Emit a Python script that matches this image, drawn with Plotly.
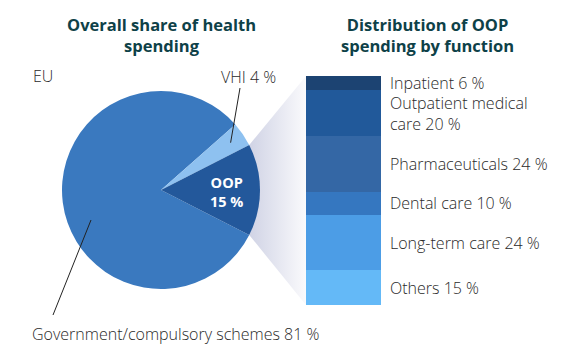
import math
import plotly.graph_objects as go

# ---------------- data ----------------
pie_labels = ["Government/compulsory schemes", "VHI", "OOP"]
pie_values = [81, 4, 15]

oop_functions = ["Inpatient", "Outpatient medical care", "Pharmaceuticals",
                 "Dental care", "Long-term care", "Others"]
oop_values = [6, 20, 24, 10, 24, 15]
oop_label_text = ["Inpatient 6 %", "Outpatient medical<br>care 20 %", "Pharmaceuticals 24 %",
                  "Dental care 10 %", "Long-term care 24 %", "Others 15 %"]

title_left = "Overall share of health<br>spending"
title_right = "Distribution of OOP<br>spending by function"
region_label = "EU"

# ---------------- style / layout constants ----------------
W, H = 568, 348
pie_colors = ["#3a79bf", "#8ec1f0", "#23589b"]
bar_colors = ["#1c4372", "#21599a", "#3467a5", "#3577c0", "#4c9de6", "#64b9f7"]
TEXT = "#2a2a2a"
TITLE = "#0e4148"
FONT = "Open Sans"
LBL = 16

cx, cy, r = 161, 190, 99          # pie centre / radius in px
bar_l, bar_r, bar_t, bar_b = 306, 381, 76, 305

total = sum(pie_values)
oop_share = pie_values[2] / total
rotation = 90 + oop_share * 360 / 2   # OOP slice centred on 3 o'clock

def px_x(v):
    return v / W

def px_y(v):
    return (H - v) / H

fig = go.Figure()

# connector wedge from the OOP slice to the bar
a1 = math.radians(90 - oop_share * 180)
a2 = math.radians(90 + oop_share * 180)
p1 = (cx + r * math.sin(a1), cy - r * math.cos(a1))
p2 = (cx + r * math.sin(a2), cy - r * math.cos(a2))
fig.add_trace(go.Scatter(
    x=[p1[0], bar_l, bar_l, p2[0], p1[0]],
    y=[p1[1], bar_t, bar_b, p2[1], p1[1]],
    mode="lines", fill="toself", line=dict(width=0),
    fillgradient=dict(type="horizontal",
                      colorscale=[[0, "#d0d3e5"], [1, "#fafafc"]]),
    hoverinfo="skip", showlegend=False, xaxis="x", yaxis="y"))

# stacked bar
for name, val, col in zip(oop_functions, oop_values, bar_colors):
    fig.add_trace(go.Bar(
        x=[0], y=[val], name=name, width=1, marker=dict(color=col, line=dict(width=0)),
        xaxis="x2", yaxis="y2", showlegend=False, hoverinfo="skip"))

# pie
fig.add_trace(go.Pie(
    labels=pie_labels, values=pie_values, sort=False, direction="clockwise",
    rotation=rotation, marker=dict(colors=pie_colors, line=dict(width=0)),
    textinfo="none", hoverinfo="skip", showlegend=False,
    domain=dict(x=[px_x(cx - r), px_x(cx + r)], y=[px_y(cy + r), px_y(cy - r)])))

ann = []
# titles
for txt, xc in [(title_left, 161), (title_right, 427)]:
    ann.append(dict(text=txt, x=px_x(xc), y=px_y(35), xref="paper", yref="paper",
                    xanchor="center", yanchor="middle", showarrow=False, align="center",
                    font=dict(family=FONT, size=16.5, color=TITLE, weight="bold")))
# bar labels
cum = 0
for val, txt in zip(oop_values, oop_label_text):
    mid = cum + val / 2
    cum += val
    ann.append(dict(text=txt, x=1, xref="x2 domain", xshift=7, y=mid, yref="y2",
                    xanchor="left", yanchor="middle", align="left", showarrow=False,
                    font=dict(family=FONT, size=LBL, color=TEXT, weight=300)))
# pie labels
ann.append(dict(text=region_label, x=px_x(31), y=px_y(76), xref="paper", yref="paper",
                xanchor="left", yanchor="middle", showarrow=False,
                font=dict(family=FONT, size=LBL, color=TEXT, weight=300)))
ann.append(dict(text=f"{pie_labels[1]} {pie_values[1]} %", x=px_x(219), y=px_y(77),
                xref="paper", yref="paper", xanchor="left", yanchor="middle", showarrow=False,
                font=dict(family=FONT, size=LBL, color=TEXT, weight=300)))
ann.append(dict(text=f"{pie_labels[0]} {pie_values[0]} %", x=px_x(30), y=px_y(334),
                xref="paper", yref="paper", xanchor="left", yanchor="middle", showarrow=False,
                font=dict(family=FONT, size=LBL, color=TEXT, weight=300)))
ann.append(dict(text=f"<b>{pie_labels[2]}<br>{pie_values[2]} %</b>", x=px_x(cx + 0.66 * r),
                y=px_y(cy + 2), xref="paper", yref="paper", xanchor="center", yanchor="middle",
                showarrow=False, font=dict(family=FONT, size=14.5, color="white")))

# leader lines
vhi_mid = math.radians(90 - oop_share * 180 - pie_values[1] / total * 180)
shapes = [
    dict(type="line", xref="x", yref="y", x0=240, y0=88,
         x1=cx + 0.85 * r * math.sin(vhi_mid), y1=cy - 0.85 * r * math.cos(vhi_mid),
         line=dict(color="#222222", width=1)),
    dict(type="line", xref="x", yref="y", x0=91, y0=220, x1=53, y1=315,
         line=dict(color="#222222", width=1)),
]

fig.update_layout(
    width=W, height=H, margin=dict(l=0, r=0, t=0, b=0, pad=0),
    paper_bgcolor="white", plot_bgcolor="rgba(0,0,0,0)",
    barmode="stack", bargap=0,
    xaxis=dict(range=[0, W], domain=[0, 1], visible=False, fixedrange=True),
    yaxis=dict(range=[H, 0], domain=[0, 1], visible=False, fixedrange=True),
    xaxis2=dict(range=[-0.5, 0.5], domain=[px_x(bar_l), px_x(bar_r)], anchor="y2",
                visible=False, fixedrange=True),
    yaxis2=dict(range=[sum(oop_values), 0], domain=[px_y(bar_b), px_y(bar_t)], anchor="x2",
                visible=False, fixedrange=True),
    annotations=ann, shapes=shapes,
)

fig.write_html("out.html")
